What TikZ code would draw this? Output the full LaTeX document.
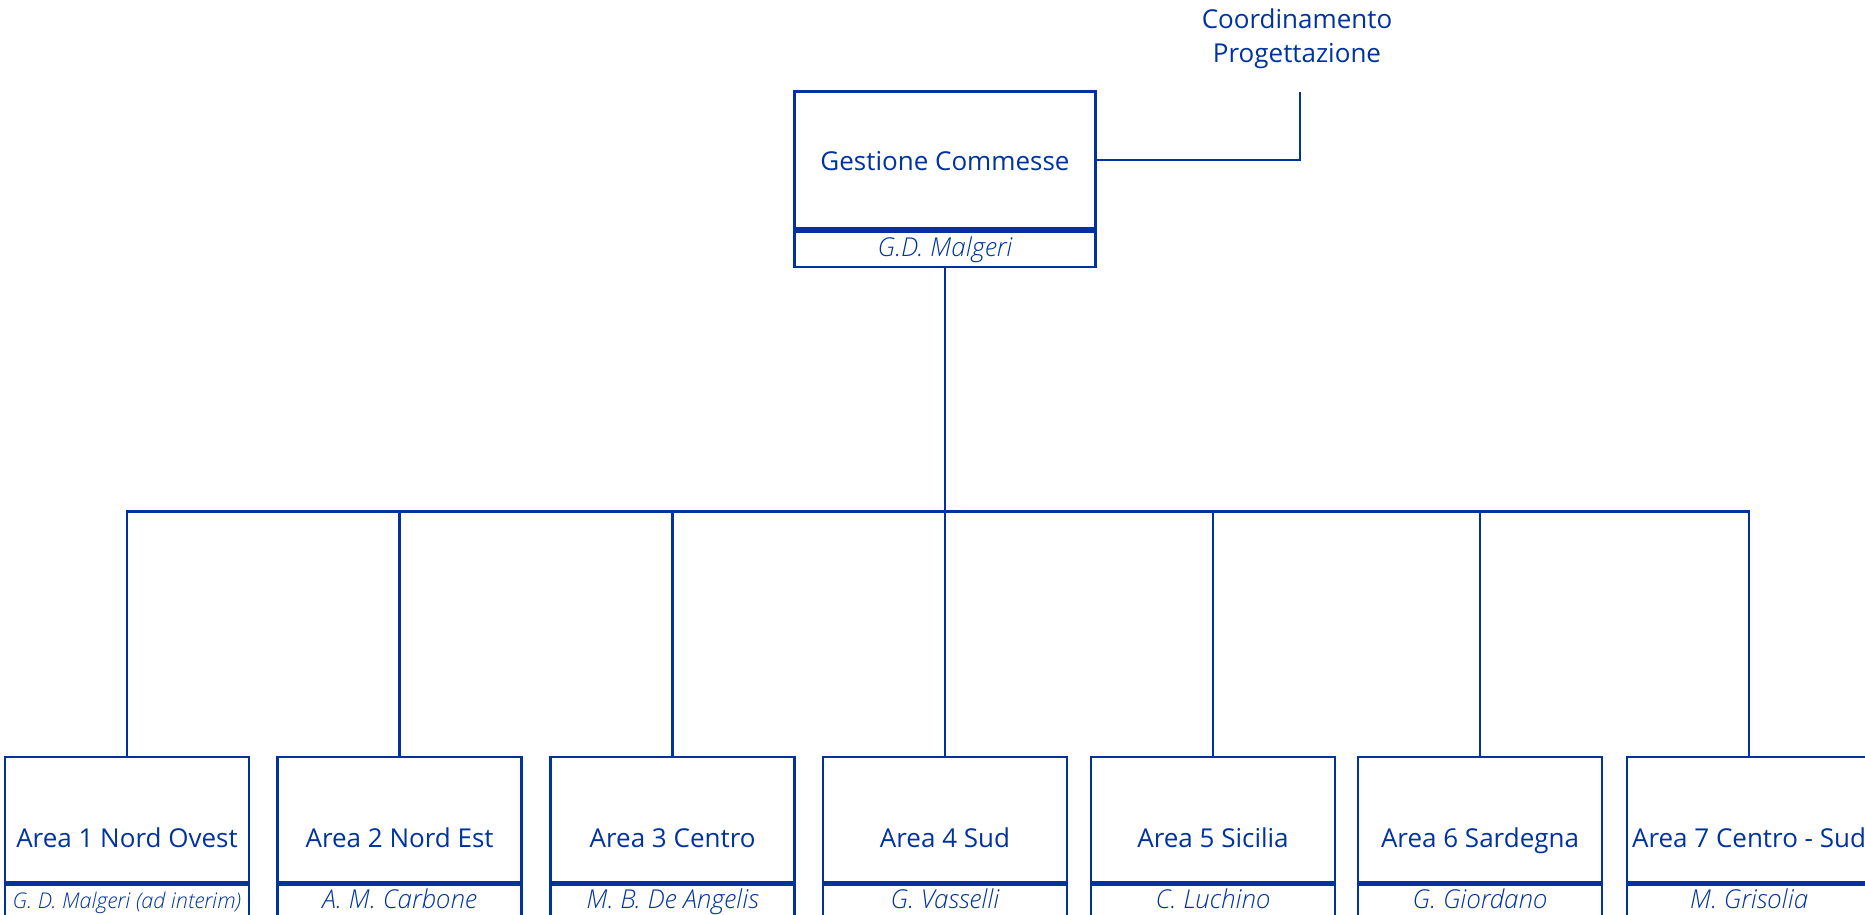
\documentclass[tikz,border=0pt]{standalone}
\usepackage{fontspec}
\setmainfont{Open Sans}
\IfFontExistsTF{Open Sans Light Italic}
  {\newfontfamily\nmfont{Open Sans Light Italic}}
  {\newcommand\nmfont{\itshape}}
\definecolor{orgblue}{RGB}{0,51,160}
\begin{document}
\begin{tikzpicture}[x=1pt,y=-1pt,
  box/.style={draw=orgblue,line width=2.6pt,rectangle,inner sep=0pt,minimum width=#1},
  box/.default=244pt,
  lbl/.style={text=orgblue,font=\fontsize{26}{34.5}\selectfont,inner sep=0pt,anchor=base},
  nm/.style={text=orgblue,font=\fontsize{26}{30}\selectfont\nmfont,inner sep=0pt,anchor=base},
  conn/.style={draw=orgblue,line width=2.6pt},
  thin/.style={draw=orgblue,line width=2pt}]
\useasboundingbox (0,0) rectangle (1865,915);
\clip (0,0) rectangle (1865,915);
% top box
\node[box=301pt,minimum height=137pt] (gc) at (945,160.2) {};
\node[box=301pt,minimum height=35.6pt,anchor=north] (gcn) at (gc.south) {};
\node[lbl] (gct) at (945,170) {Gestione Commesse};
\node[nm] (gcm) at (945,256) {G.D. Malgeri};
% coordination
\node[lbl,align=center] (coord) at (1297,62.8) {Coordinamento\\Progettazione};
\coordinate (cpt) at (1300,91.6);
\draw[thin] (gc.east) -| (cpt);
% bus
\coordinate (bus) at (945,511.4);
% children
\foreach \i/\x/\t/\n in {1/127/Area 1 Nord Ovest/{\fontsize{21.6}{24}\selectfont G. D. Malgeri (ad interim)},
  2/399.6/Area 2 Nord Est/A. M. Carbone,
  3/672.6/Area 3 Centro/M. B. De Angelis,
  4/945/Area 4 Sud/G. Vasselli,
  5/1213/Area 5 Sicilia/C. Luchino,
  6/1480/Area 6 Sardegna/G. Giordano,
  7/1749/Area 7 Centro - Sud/M. Grisolia}{
  \node[box,minimum height=125pt] (a\i) at (\x,819.5) {};
  \node[box,minimum height=32pt,anchor=north] (n\i) at (a\i.south) {};
  \node[lbl] (t\i) at (\x,847) {\t};
  \node[nm] (m\i) at (\x,908) {\n};
}
\draw[conn] (gcn.south) -- (bus);
\draw[conn] (a1.north) |- (bus) -| (a7.north);
\foreach \i in {2,3,4,5,6}{\draw[conn] (a\i.north) -- (a\i.north |- bus);}
\end{tikzpicture}
\end{document}
